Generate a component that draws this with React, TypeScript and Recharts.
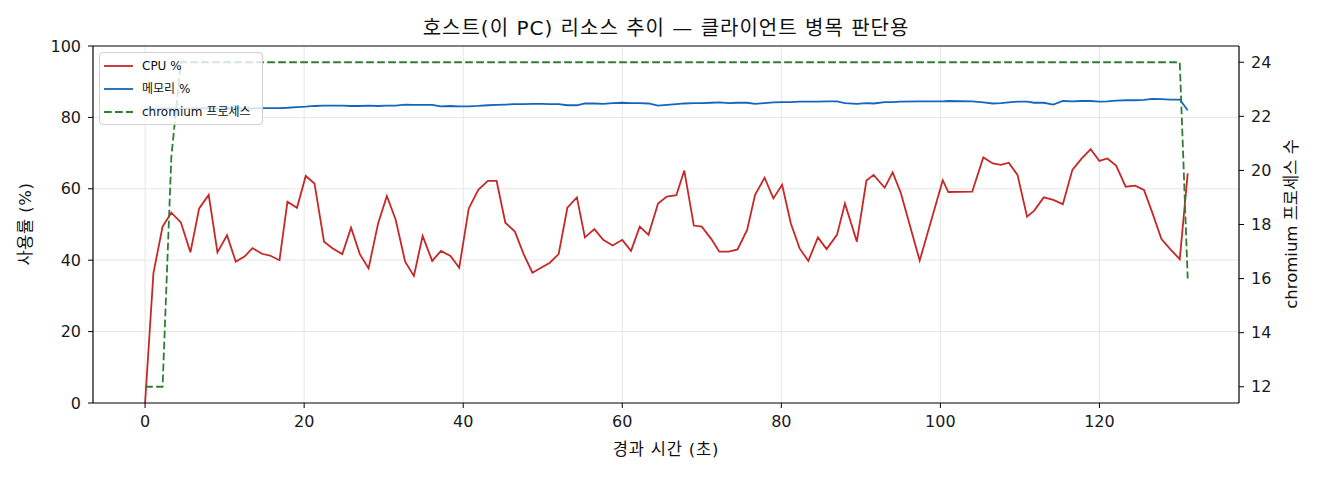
import React from "react";
import {
  ComposedChart,
  Line,
  XAxis,
  YAxis,
  CartesianGrid,
  ReferenceLine,
} from "recharts";

// elapsed time (s)
const TIMES = [
  0, 1.05, 2.2, 3.3, 4.5, 5.7, 6.8, 8.0, 9.1, 10.3, 11.4, 12.5, 13.5, 14.7, 15.7, 16.9, 17.9, 19.1, 20.2,
  21.3, 22.5, 23.6, 24.8, 25.9, 27.0, 28.1, 29.3, 30.4, 31.5, 32.7, 33.8, 34.9, 36.1, 37.2, 38.4, 39.5,
  40.7, 41.9, 43.1, 44.2, 45.3, 46.5, 47.6, 48.7, 49.9, 50.9, 52.0, 53.1, 54.3, 55.3, 56.5, 57.6, 58.8,
  60.0, 61.1, 62.2, 63.3, 64.5, 65.6, 66.8, 67.8, 69.0, 70.0, 71.2, 72.2, 73.4, 74.5, 75.7, 76.7, 77.9,
  79.0, 80.1, 81.2, 82.3, 83.4, 84.6, 85.7, 87.0, 88.0, 89.5, 90.7, 91.6, 93.0, 94.0, 95.0, 97.4, 100.3,
  101.0, 104.0, 105.4, 106.6, 107.6, 108.6, 109.7, 110.9, 111.8, 113.0, 114.2, 115.4, 116.6, 117.7,
  118.9, 120.0, 121.0, 122.1, 123.3, 124.5, 125.6, 126.6, 127.8, 128.9, 130.1, 131.1,
];

// CPU %
const CPU = [
  0, 36.4, 49.4, 53.3, 50.6, 42.2, 54.5, 58.3, 42.2, 47.0, 39.6, 41.0, 43.4, 41.8, 41.3, 40.0, 56.4, 54.7, 63.6,
  61.5, 45.2, 43.3, 41.7, 49.1, 41.7, 37.7, 50.3, 58.0, 51.4, 39.6, 35.6, 46.8, 39.8, 42.6, 41.2, 37.9,
  54.5, 59.7, 62.2, 62.2, 50.5, 48.0, 41.7, 36.5, 38.0, 39.3, 41.7, 54.7, 57.6, 46.4, 48.7, 45.7, 44.1,
  45.7, 42.6, 49.4, 47.1, 55.9, 57.8, 58.2, 65.1, 49.7, 49.4, 45.9, 42.4, 42.4, 43.0, 48.5, 58.3, 63.1,
  57.3, 61.1, 50.3, 43.3, 39.8, 46.4, 43.1, 47.1, 55.9, 45.2, 62.3, 63.9, 60.3, 64.6, 59.0, 39.9, 62.4,
  59.1, 59.2, 68.8, 67.1, 66.7, 67.3, 63.9, 52.2, 53.9, 57.6, 56.9, 55.7, 65.3, 68.3,
  71.1, 67.8, 68.5, 66.5, 60.6, 60.9, 59.7, 53.6, 45.9, 43.1, 40.3, 64.3,
];

// memory %
const MEM = [
  82.3, 82.4, 82.5, 82.5, 82.4, 82.5, 82.5, 82.6, 82.5, 82.5, 82.6, 82.5, 82.5, 82.6, 82.6, 82.6, 82.7, 82.9, 83.0,
  83.2, 83.3, 83.3, 83.3, 83.2, 83.2, 83.3, 83.2, 83.3, 83.3, 83.6, 83.5, 83.5, 83.5, 83.1, 83.2, 83.1,
  83.1, 83.2, 83.4, 83.5, 83.6, 83.7, 83.7, 83.8, 83.8, 83.7, 83.7, 83.4, 83.4, 83.9, 83.9, 83.8, 84.0,
  84.1, 84.0, 84.0, 83.9, 83.3, 83.5, 83.7, 83.9, 84.0, 84.0, 84.1, 84.2, 84.0, 84.1, 84.1, 83.8, 84.0,
  84.2, 84.3, 84.3, 84.4, 84.4, 84.4, 84.5, 84.5, 84.0, 83.8, 84.0, 83.9, 84.3, 84.3, 84.4, 84.5, 84.5,
  84.6, 84.5, 84.2, 83.9, 84.0, 84.2, 84.4, 84.4, 84.1, 84.1, 83.6, 84.6, 84.5, 84.6,
  84.6, 84.4, 84.5, 84.7, 84.8, 84.8, 84.9, 85.2, 85.1, 85.0, 85.0, 82.0,
];

// chromium process count
const PROC = [
  12, 12, 12, 20.5, 24, 24, 24, 24, 24, 24, 24, 24, 24, 24, 24, 24, 24, 24, 24,
  24, 24, 24, 24, 24, 24, 24, 24, 24, 24, 24, 24, 24, 24, 24, 24, 24,
  24, 24, 24, 24, 24, 24, 24, 24, 24, 24, 24, 24, 24, 24, 24, 24, 24,
  24, 24, 24, 24, 24, 24, 24, 24, 24, 24, 24, 24, 24, 24, 24, 24, 24,
  24, 24, 24, 24, 24, 24, 24, 24, 24, 24, 24, 24, 24, 24, 24, 24, 24,
  24, 24, 24, 24, 24, 24, 24, 24, 24, 24, 24, 24, 24, 24,
  24, 24, 24, 24, 24, 24, 24, 24, 24, 24, 24, 16,
];

const X_TICKS = [0, 20, 40, 60, 80, 100, 120];
const LEFT_TICKS = [0, 20, 40, 60, 80, 100];
const RIGHT_TICKS = [12, 14, 16, 18, 20, 22, 24];

const TITLE = "호스트(이 PC) 리소스 추이 — 클라이언트 병목 판단용";
const X_LABEL = "경과 시간 (초)";
const LEFT_LABEL = "사용률 (%)";
const RIGHT_LABEL = "chromium 프로세스 수";

const SERIES = [
  { key: "cpu", name: "CPU %", color: "#c62828", dash: undefined as string | undefined, axis: "left" },
  { key: "mem", name: "메모리 %", color: "#1565c0", dash: undefined as string | undefined, axis: "left" },
  { key: "proc", name: "chromium 프로세스", color: "#2e7d32", dash: "7.7 3.3", axis: "right" },
];

const data = TIMES.map((t, i) => ({ t, cpu: CPU[i], mem: MEM[i], proc: PROC[i] }));

const FONT = "'DejaVu Sans', 'Noto Sans CJK KR', sans-serif";
const W = 1304;
const H = 464;
const tickStyle = { fill: "#1a1a1a", fontSize: 16, fontFamily: FONT };

const labelBase: React.CSSProperties = {
  position: "absolute",
  lineHeight: 1,
  whiteSpace: "nowrap",
  color: "#111",
  fontSize: 16.5,
};

export default function App() {
  return (
    <div style={{ position: "relative", width: W, height: H, fontFamily: FONT, color: "#111" }}>
      <ComposedChart
        width={W}
        height={H}
        data={data}
        margin={{ top: 38, right: 13, left: 25, bottom: 39 }}
      >
        <CartesianGrid
          yAxisId="left"
          stroke="#e6e6e6"
          strokeWidth={1}
          horizontalValues={[20, 40, 60, 80]}
          verticalValues={X_TICKS}
        />
        <XAxis
          dataKey="t"
          type="number"
          domain={[-6.55, 137.55]}
          ticks={X_TICKS}
          tick={tickStyle}
          tickSize={5}
          tickMargin={8}
          height={30}
          stroke="#000"
          axisLine={{ stroke: "#000", strokeWidth: 1.2 }}
          tickLine={{ stroke: "#000", strokeWidth: 1 }}
        />
        <YAxis
          yAxisId="left"
          domain={[0, 100]}
          ticks={LEFT_TICKS}
          tick={tickStyle}
          tickSize={5}
          tickMargin={7}
          width={60}
          axisLine={{ stroke: "#000", strokeWidth: 1.2 }}
          tickLine={{ stroke: "#000", strokeWidth: 1 }}
        />
        <YAxis
          yAxisId="right"
          orientation="right"
          domain={[11.4, 24.6]}
          ticks={RIGHT_TICKS}
          tick={tickStyle}
          tickSize={5}
          tickMargin={7}
          width={60}
          axisLine={{ stroke: "#000", strokeWidth: 1.2 }}
          tickLine={{ stroke: "#000", strokeWidth: 1 }}
        />
        {SERIES.map((s) => (
          <Line
            key={s.key}
            yAxisId={s.axis}
            dataKey={s.key}
            name={s.name}
            type="linear"
            stroke={s.color}
            strokeWidth={1.8}
            strokeDasharray={s.dash}
            dot={false}
            activeDot={false}
            isAnimationActive={false}
          />
        ))}
        <ReferenceLine yAxisId="left" y={100} stroke="#000" strokeWidth={1.2} />
      </ComposedChart>

      {/* title */}
      <div
        style={{
          ...labelBase,
          left: 658,
          top: 20,
          transform: "translate(-50%, -50%)",
          fontSize: 20,
          letterSpacing: 1,
        }}
      >
        {TITLE}
      </div>

      {/* x label */}
      <div
        style={{ ...labelBase, left: 658, top: 442, transform: "translate(-50%, -50%)", letterSpacing: 0.8 }}
      >
        {X_LABEL}
      </div>

      {/* left y label */}
      <div
        style={{
          ...labelBase,
          left: 18,
          top: 216,
          transform: "translate(-50%, -50%) rotate(-90deg)",
          letterSpacing: 0.5,
        }}
      >
        {LEFT_LABEL}
      </div>

      {/* right y label */}
      <div
        style={{ ...labelBase, left: 1284, top: 216, transform: "translate(-50%, -50%) rotate(-90deg)" }}
      >
        {RIGHT_LABEL}
      </div>

      {/* legend */}
      <div
        style={{
          position: "absolute",
          left: 91,
          top: 44,
          width: 164,
          height: 73,
          boxSizing: "border-box",
          background: "rgba(255,255,255,0.8)",
          border: "1px solid #d0d0d0",
          borderRadius: 4,
          fontSize: 12,
          color: "#111",
        }}
      >
        {SERIES.map((s, i) => (
          <div
            key={s.key}
            style={{
              position: "absolute",
              left: 0,
              top: 13 + i * 23 - 8,
              height: 16,
              display: "flex",
              alignItems: "center",
              whiteSpace: "nowrap",
            }}
          >
            <svg width={42} height={16} style={{ display: "block" }}>
              <line
                x1={4}
                x2={33}
                y1={8}
                y2={8}
                stroke={s.color}
                strokeWidth={1.8}
                strokeDasharray={s.dash}
              />
            </svg>
            <span style={{ lineHeight: 1 }}>{s.name}</span>
          </div>
        ))}
      </div>
    </div>
  );
}
